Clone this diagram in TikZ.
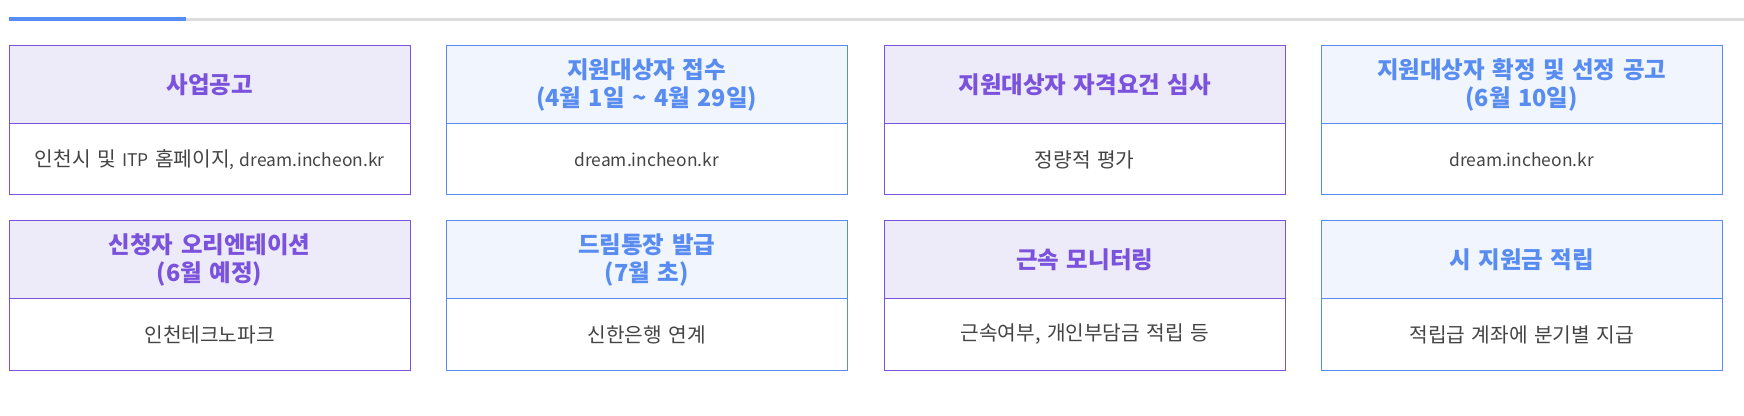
\documentclass[tikz,border=0pt]{standalone}
\usepackage{fontspec}
\setmainfont[WordSpace=1.4]{Noto Sans CJK KR}
\newfontfamily\latfont[Scale=0.86,WordSpace=1.4]{Noto Sans CJK KR}
\newcommand{\lat}[1]{{\latfont #1}}
\usetikzlibrary{positioning}

\definecolor{purline}{RGB}{122,82,220}
\definecolor{purfill}{RGB}{237,235,250}
\definecolor{bluline}{RGB}{88,140,240}
\definecolor{blufill}{RGB}{240,245,254}
\definecolor{bodygray}{RGB}{68,68,68}
\definecolor{bargray}{RGB}{221,221,221}
\definecolor{barblue}{RGB}{86,140,245}

\begin{document}
\begin{tikzpicture}
[
    x=0.75pt, y=-0.75pt, line width=0.75pt,
    box/.style={draw, outer sep=0pt, minimum width=301pt, align=center},
    head/.style={box, minimum height=58.5pt, font=\bfseries\fontsize{17.6}{21}\selectfont},
    body/.style={box, fill=white, minimum height=53.25pt, text=bodygray, font=\fontsize{15.2}{18}\selectfont},
    purbox/.style={draw=purline, fill=purfill, text=purline},
    blubox/.style={draw=bluline, fill=blufill, text=bluline},
]
\useasboundingbox (0,0) rectangle (1744,416);
\fill [bargray] (186,18) rectangle (1744,21);
\fill [barblue] (9,17) rectangle (186,21);

% first row
\node [head, purbox, anchor=north west] (s1) at (9,46) {사업공고};
\node [body, draw=purline, below=0pt of s1] (s1b) {인천시 및 \lat{ITP} 홈페이지\lat{, dream.incheon.kr}};
\node [head, blubox, anchor=north west] (s2) at (446,46) {지원대상자 접수\\(4월 1일 \textasciitilde{} 4월 29일)};
\node [body, draw=bluline, below=0pt of s2] (s2b) {\lat{dream.incheon.kr}};
\node [head, purbox, anchor=north west] (s3) at (884,46) {지원대상자 자격요건 심사};
\node [body, draw=purline, below=0pt of s3] (s3b) {정량적 평가};
\node [head, blubox, anchor=north west] (s4) at (1321,46) {지원대상자 확정 및 선정 공고\\(6월 10일)};
\node [body, draw=bluline, below=0pt of s4] (s4b) {\lat{dream.incheon.kr}};

% second row
\node [head, purbox, anchor=north west] (s5) at (9,221) {신청자 오리엔테이션\\(6월 예정)};
\node [body, draw=purline, below=0pt of s5] (s5b) {인천테크노파크};
\node [head, blubox, anchor=north west] (s6) at (446,221) {드림통장 발급\\(7월 초)};
\node [body, draw=bluline, below=0pt of s6] (s6b) {신한은행 연계};
\node [head, purbox, anchor=north west] (s7) at (884,221) {근속 모니터링};
\node [body, draw=purline, below=0pt of s7] (s7b) {근속여부, 개인부담금 적립 등};
\node [head, blubox, anchor=north west] (s8) at (1321,221) {시 지원금 적립};
\node [body, draw=bluline, below=0pt of s8] (s8b) {적립급 계좌에 분기별 지급};
\end{tikzpicture}
\end{document}
